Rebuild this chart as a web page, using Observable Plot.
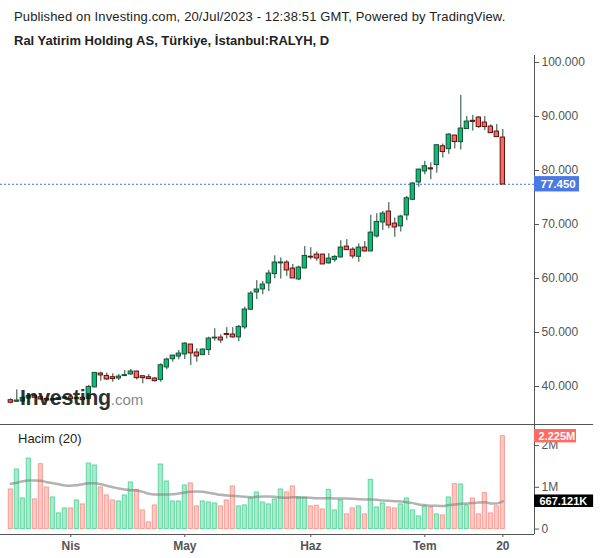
<!DOCTYPE html>
<html><head><meta charset="utf-8">
<script src="https://cdn.jsdelivr.net/npm/d3@7"></script>
<script src="https://cdn.jsdelivr.net/npm/@observablehq/plot@0.6"></script>
<style>
body{margin:0;background:#fff;font-family:"Liberation Sans",Arial,sans-serif;}
#wrap{position:relative;width:600px;height:558px;overflow:hidden;background:#fff}
.abs{position:absolute;white-space:nowrap}
#h1{left:14px;top:9px;font-size:13px;line-height:16px;color:#222;letter-spacing:0.14px}
#h2{left:14px;top:33px;font-size:13px;line-height:16px;font-weight:bold;color:#222}
#price{left:0;top:55px}
#vol{left:0;top:424px}
#hacim{left:18px;top:431px;font-size:13px;line-height:16px;color:#222}
#wm{left:20px;top:388px;line-height:20px;}
#wm .a{font-size:21.5px;font-weight:bold;color:rgba(20,20,20,0.9);letter-spacing:-0.4px}
#wm .b{font-size:15px;color:rgba(120,120,120,0.9)}
</style></head>
<body>
<div id="wrap">
  <div class="abs" id="h1">Published on Investing.com, 20/Jul/2023 - 12:38:51 GMT, Powered by TradingView.</div>
  <div class="abs" id="h2">Ral Yatirim Holding AS, Türkiye, İstanbul:RALYH, D</div>
  <div class="abs" id="price"></div>
  <div class="abs" id="vol"></div>
  <div class="abs" id="hacim">Hacim (20)</div>
  <div class="abs" id="wm"><span class="a">Investing</span><span class="b">.com</span></div>
</div>
<script>
// ---- data (daily bars, 20 Mar 2023 .. 20 Jul 2023) ----
const open = [37.41,37.22,37.28,37.84,38.20,37.95,37.65,37.45,37.60,37.80,
  37.95,37.70,37.84,37.72,39.88,42.35,41.91,41.67,41.54,41.98,
  42.28,42.72,41.85,41.67,41.42,41.24,43.58,45.10,45.60,45.99,
  47.72,46.24,45.86,46.79,48.95,49.01,49.66,49.57,49.14,50.99,
  54.26,57.47,58.03,59.14,60.87,62.85,62.90,61.79,59.88,61.91,
  63.98,64.38,64.38,62.84,63.50,63.95,65.86,65.30,64.07,65.68,
  65.06,67.84,70.43,72.34,70.12,69.70,71.73,74.63,77.84,79.87,
  80.35,81.05,84.44,84.00,86.42,85.30,87.72,89.15,89.75,88.83,
  88.09,87.16,86.05];
const high = [37.72,39.38,38.00,38.50,38.40,38.10,37.90,37.80,37.95,38.10,
  38.10,38.00,38.00,40.20,42.50,42.65,42.47,42.35,42.22,42.96,
  43.15,42.80,41.95,42.22,41.67,44.20,45.25,45.75,46.67,48.10,
  47.80,46.98,46.98,49.14,50.68,49.57,50.90,50.90,51.30,54.70,
  57.60,59.60,59.45,61.50,64.20,63.80,63.30,62.60,62.30,65.93,
  65.70,64.90,64.45,64.60,64.25,67.00,67.20,65.70,66.40,66.85,
  71.70,72.00,72.40,74.07,71.20,71.70,75.20,77.80,80.20,81.70,
  81.40,84.70,84.90,86.80,86.50,93.90,90.00,90.20,90.00,90.00,
  88.45,88.50,87.59];
const low = [36.79,37.10,37.15,37.60,37.80,37.50,37.30,37.30,37.45,37.60,
  37.60,37.55,37.40,37.50,39.80,40.99,41.11,40.80,41.10,41.90,
  42.10,41.20,40.50,41.30,40.80,40.80,43.09,44.50,44.94,45.00,
  43.90,44.50,45.74,45.74,48.40,48.00,48.80,48.95,48.30,50.56,
  54.10,56.10,57.00,57.60,59.94,59.90,60.40,60.00,59.60,61.80,
  63.45,63.20,62.60,62.70,63.00,63.80,65.20,63.60,63.00,64.90,
  65.00,67.50,68.90,69.20,67.65,68.60,70.70,74.40,76.90,79.20,
  78.30,79.50,82.30,83.00,84.00,83.80,87.70,87.30,87.80,87.40,
  86.90,86.15,77.45];
const close = [37.04,37.35,37.84,38.20,37.95,37.65,37.45,37.60,37.80,37.95,
  37.70,37.84,37.53,39.88,42.47,42.10,41.36,41.42,41.79,42.05,
  42.72,41.60,41.60,41.42,41.05,43.89,44.94,45.68,46.05,47.90,
  46.17,45.62,46.79,48.83,49.00,48.58,49.60,49.14,50.99,54.20,
  57.16,57.90,58.83,60.87,62.90,62.92,61.54,60.06,61.98,64.13,
  63.93,63.76,62.65,63.64,63.95,65.68,65.30,64.13,65.68,65.06,
  68.45,70.43,71.97,69.87,69.50,71.42,74.81,77.53,80.12,80.74,
  80.25,84.63,83.46,86.60,85.31,87.72,89.01,89.05,88.09,88.09,
  86.97,86.23,77.45];
// volume in millions
const volume = [0.948,1.426,0.733,1.689,0.709,1.554,0.996,0.757,0.375,0.494,
  0.494,0.685,0.590,1.570,1.522,0.996,0.805,0.685,0.661,0.805,
  1.116,0.940,0.446,0.159,0.566,1.546,1.139,0.661,0.661,1.044,
  1.092,0.542,0.661,0.637,0.614,0.542,0.685,1.020,0.542,0.566,
  0.733,0.876,0.637,0.590,0.709,0.948,0.876,1.020,0.757,0.749,
  0.542,0.558,0.470,0.940,0.446,0.685,0.351,0.494,0.542,0.351,
  1.179,0.518,0.614,0.518,0.494,0.590,0.733,0.446,0.303,0.542,
  0.518,0.351,0.327,0.757,1.076,1.068,0.566,0.733,0.351,0.861,
  0.375,0.542,2.225];
// 20-day volume average as drawn (millions)
const volumeMA = [1.084,1.108,1.147,1.163,1.163,1.155,1.124,1.100,1.076,1.044,
  1.036,1.052,1.076,1.100,1.100,1.076,1.036,1.004,0.972,0.948,
  0.932,0.924,0.892,0.845,0.829,0.829,0.829,0.837,0.853,0.876,
  0.892,0.900,0.892,0.869,0.845,0.821,0.805,0.797,0.789,0.773,
  0.765,0.773,0.781,0.781,0.773,0.757,0.749,0.765,0.757,0.757,
  0.749,0.741,0.741,0.741,0.733,0.733,0.733,0.725,0.717,0.709,
  0.709,0.701,0.685,0.677,0.669,0.661,0.645,0.622,0.590,0.574,
  0.558,0.558,0.550,0.574,0.590,0.606,0.614,0.622,0.637,0.645,
  0.614,0.614,0.667121];
const tickIdx = [10, 29, 50, 69, 82];
const tickLabels = ["Nis", "May", "Haz", "Tem", "20"];
const priceTicks = [40, 50, 60, 70, 80, 90, 100];
const volTicks = [0, 1, 2];

// ---- styling ----
const UP = "#00c177", DOWN = "#ff6861", UPLINE = "#1c4d35", DOWNLINE = "#5c1212", WICK = "#1c4a33";
const VUP = "#a8ecca", VUPL = "#5fd7a1", VDN = "#ffc9c5", VDNL = "#f99b94";
const AX = "#555";
const FONT = '"Liberation Sans", Arial, sans-serif';

const bars = d3.range(open.length).map(i => ({i, o: open[i], h: high[i], l: low[i], c: close[i], v: volume[i], ma: volumeMA[i]}));
const xDom = [-1.717, 87.28];
const xMax = xDom[1];
const last = bars[bars.length - 1];

const price = Plot.plot({
  width: 600, height: 369,
  marginLeft: 0, marginRight: 66, marginTop: 0, marginBottom: 0,
  style: {fontFamily: FONT, fontSize: "12px", color: AX, background: "transparent", overflow: "visible"},
  x: {domain: xDom, axis: null},
  y: {domain: [32.963, 101.296]},
  color: {type: "identity"},
  marks: [
    Plot.ruleY([last.c], {stroke: "#3c6fe0", strokeDasharray: "2 2", strokeWidth: 1}),
    Plot.ruleX(bars, {x: "i", y1: "l", y2: "h", stroke: WICK, strokeWidth: 1}),
    Plot.rect(bars, {
      x1: d => d.i - 0.36, x2: d => d.i + 0.36,
      y1: d => Math.min(d.o, d.c) - 0.05, y2: d => Math.max(d.o, d.c) + 0.05,
      fill: d => d.c >= d.o ? UP : DOWN,
      stroke: d => d.c >= d.o ? UPLINE : DOWNLINE, strokeWidth: 1
    }),
    Plot.ruleX([xMax], {stroke: AX, strokeWidth: 1}),
    Plot.axisY({anchor: "right", ticks: priceTicks, tickFormat: d => d.toFixed(3), tickSize: 4, tickPadding: 3, label: null, stroke: AX, fill: AX}),
    Plot.rect([last.c], {x1: xMax, x2: xMax + 7.5, y1: d => d - 1.42, y2: d => d + 1.42, fill: "#4a78e4"}),
    Plot.text([last.c], {x: xMax, y: d => d, dx: 6, text: d => d.toFixed(3), textAnchor: "start", fill: "white", fontWeight: "bold", fontSize: 11.5})
  ]
});
document.getElementById("price").appendChild(price);

const vol = Plot.plot({
  width: 600, height: 134,
  marginLeft: 0, marginRight: 66, marginTop: 0, marginBottom: 24,
  style: {fontFamily: FONT, fontSize: "12px", color: AX, background: "transparent", overflow: "visible"},
  x: {domain: xDom},
  y: {domain: [-0.13, 2.505]},
  color: {type: "identity"},
  marks: [
    Plot.rectY(bars, {
      x1: d => d.i - 0.34, x2: d => d.i + 0.34, y1: 0, y2: "v",
      fill: d => d.c >= d.o ? VUP : VDN,
      stroke: d => d.c >= d.o ? VUPL : VDNL, strokeWidth: 1
    }),
    Plot.lineY(bars, {x: "i", y: "ma", stroke: "#808080", strokeWidth: 2.5, strokeOpacity: 0.6, curve: "monotone-x"}),
    Plot.ruleY([-0.13], {stroke: AX}),
    Plot.ruleY([2.505], {x1: xDom[0], x2: xMax + 9.85, stroke: AX}),
    Plot.ruleX([xMax], {stroke: AX}),
    Plot.axisX({ticks: tickIdx, tickFormat: d => tickLabels[tickIdx.indexOf(d)], tickSize: 3, tickPadding: 4, label: null, fontWeight: "bold", fontSize: 12, stroke: AX, fill: AX}),
    Plot.axisY({anchor: "right", ticks: volTicks, tickFormat: d => d === 0 ? "0" : d + "M", tickSize: 4, tickPadding: 3, label: null, stroke: AX, fill: AX}),
    Plot.rect([last.v], {x1: xMax, x2: xMax + 7.0, y1: d => d - 0.16, y2: d => d + 0.16, fill: "#ff6a62"}),
    Plot.text([last.v], {x: xMax, y: d => d, dx: 4, text: d => d.toFixed(3) + "M", textAnchor: "start", fill: "white", fontWeight: "bold", fontSize: 11}),
    Plot.rect([last.ma], {x1: xMax, x2: xMax + 9.85, y1: d => d - 0.15, y2: d => d + 0.15, fill: "#000"}),
    Plot.text([last.ma], {x: xMax, y: d => d, dx: 5, text: d => (d * 1000).toFixed(3) + "K", textAnchor: "start", fill: "white", fontWeight: "bold", fontSize: 11})
  ]
});
document.getElementById("vol").appendChild(vol);
</script>
</body></html>
